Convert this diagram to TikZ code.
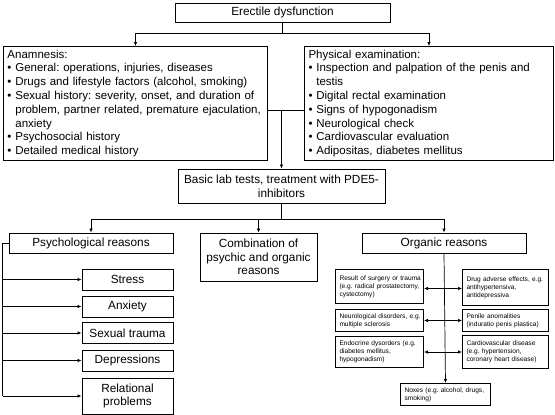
\documentclass[tikz,border=0pt]{standalone}
\usepackage{fontspec}
\setmainfont{Liberation Sans}
\usetikzlibrary{arrows.meta,calc}
\frenchspacing
\newcommand\ind{\phantom{•\ }}
\newcommand\ml[1]{\mbox{#1}}
\begin{document}
\begin{tikzpicture}[x=1pt,y=-1pt,
  box/.style={draw, line width=1pt, inner sep=2pt, align=center,
    font=\fontsize{11.8}{13.6}\selectfont\frenchspacing},
  lbox/.style={draw, line width=1pt, inner xsep=4pt, inner ysep=2pt, align=left,
    anchor=north west, font=\fontsize{11.5}{13.8}\selectfont\frenchspacing},
  sbox/.style={draw, line width=1pt, inner xsep=4pt, inner ysep=1pt, align=left,
    anchor=north west, font=\fontsize{6.6}{8}\selectfont\frenchspacing},
  conn/.style={line width=0.7pt},
  arr/.style={conn, -{Latex[length=4pt,width=3.5pt]}},
  darr/.style={conn, {Latex[length=4pt,width=3.5pt]}-{Latex[length=4pt,width=3.5pt]}}]
\useasboundingbox (0,0) rectangle (555,415);

% level 1
\node[box, minimum width=215pt, minimum height=19pt] (top) at (282.5,12.5) {Erectile dysfunction};

% level 2
\node[lbox, text width=256pt, minimum height=114pt] (anam) at (3,46) {%
\ml{Anamnesis:}\\
\ml{• General: operations, injuries, diseases}\\
\ml{• Drugs and lifestyle factors (alcohol, smoking)}\\
\ml{• Sexual history: severity, onset, and duration of}\\
\ml{\ind problem, partner related, premature ejaculation,}\\
\ml{\ind anxiety}\\
\ml{• Psychosocial history}\\
\ml{• Detailed medical history}};

\node[lbox, text width=241pt, minimum height=114pt] (phys) at (304,46) {%
\ml{Physical examination:}\\
\ml{• Inspection and palpation of the penis and}\\
\ml{\ind testis}\\
\ml{• Digital rectal examination}\\
\ml{• Signs of hypogonadism}\\
\ml{• Neurological check}\\
\ml{• Cardiovascular evaluation}\\
\ml{• Adipositas, diabetes mellitus}\\[3pt]};

% level 3
\node[box, minimum width=207pt, minimum height=34pt] (lab) at (281.5,186)
  {Basic lab tests, treatment with PDE5-\\inhibitors};

% level 4
\node[box, minimum width=164pt, minimum height=20pt] (psych) at (91,243) {Psychological reasons};
\node[box, minimum width=117pt, minimum height=48pt] (comb) at (258.5,257)
  {Combination of\\psychic and organic\\reasons};
\node[box, minimum width=164pt, minimum height=20pt] (org) at (444,243) {Organic reasons};

% psychological sub-boxes
\node[box, minimum width=91pt, minimum height=21pt] (stress) at (127.5,279.5) {Stress};
\node[box, minimum width=91pt, minimum height=21pt] (anx) at (127.5,306.5) {Anxiety};
\node[box, minimum width=91pt, minimum height=21pt] (sex) at (127.5,333) {Sexual trauma};
\node[box, minimum width=91pt, minimum height=21pt] (dep) at (127.5,360.5) {Depressions};
\node[box, minimum width=91pt, minimum height=36pt] (rel) at (127.5,396) {Relational\\problems};

% organic sub-boxes
\node[sbox, text width=80pt, minimum height=34pt] (res) at (335,269) {%
\ml{Result of surgery or trauma}\\
\ml{(e.g. radical prostatectomy,}\\
\ml{cystectomy)}};
\node[sbox, text width=78pt, minimum height=36pt] (drug) at (462,269) {%
\ml{Drug adverse effects, e.g.}\\
\ml{antihypertensiva,}\\
\ml{antidepressiva}};
\node[sbox, text width=80pt, minimum height=22pt] (neuro) at (335,309) {%
\ml{Neurological disorders, e.g.}\\
\ml{multiple sclerosis}};
\node[sbox, text width=78pt, minimum height=22pt] (pen) at (462,309) {%
\ml{Penile anomalities}\\
\ml{(induratio penis plastica)}};
\node[sbox, text width=80pt, minimum height=31pt] (endo) at (335,336) {%
\ml{Endocrine dysorders (e.g.}\\
\ml{diabetes mellitus,}\\
\ml{hypogonadism)}};
\node[sbox, text width=78pt, minimum height=33pt] (card) at (462,335) {%
\ml{Cardiovascular disease}\\
\ml{(e.g. hypertension,}\\
\ml{coronary heart disease)}};
\node[sbox, text width=82pt, minimum height=22pt] (nox) at (400,383) {%
\ml{Noxes (e.g. alcohol, drugs,}\\
\ml{smoking)}};

% connectors level 1 -> 2
\draw[conn] (top.south) -- ++(0,11) coordinate (t1);
\draw[arr] (t1) -| (anam.north);
\draw[arr] (t1) -| (phys.north);

% level 2 -> 3
\coordinate (mj) at (lab.north |- 0,110);
\draw[conn] (mj -| anam.east) -- (mj -| phys.west);
\draw[arr] (mj) -- (lab.north);

% level 3 -> 4
\draw[conn] (lab.south) -- ++(0,16) coordinate (l1);
\draw[arr] (l1) -| (psych.north);
\draw[arr] (l1) -| (org.north);
\draw[arr] (comb.north |- l1) -- (comb.north);

% psychological bracket
\draw[conn] (psych.west) -- ++(-6,0) coordinate (bl) -- (bl |- rel.west);
\foreach \n in {stress,anx,sex,dep,rel}
  \draw[arr] (bl |- \n.west) -- (\n.west);

% organic
\draw[arr] (org.south) -- (nox.north);
\draw[darr] ($(res.east)+(0,2)$) -- ($(res.east -| drug.west)+(0,2)$);
\draw[darr] (neuro.east) -- (neuro.east -| pen.west);
\draw[darr] (endo.east) -- (endo.east -| card.west);
\end{tikzpicture}
\end{document}
